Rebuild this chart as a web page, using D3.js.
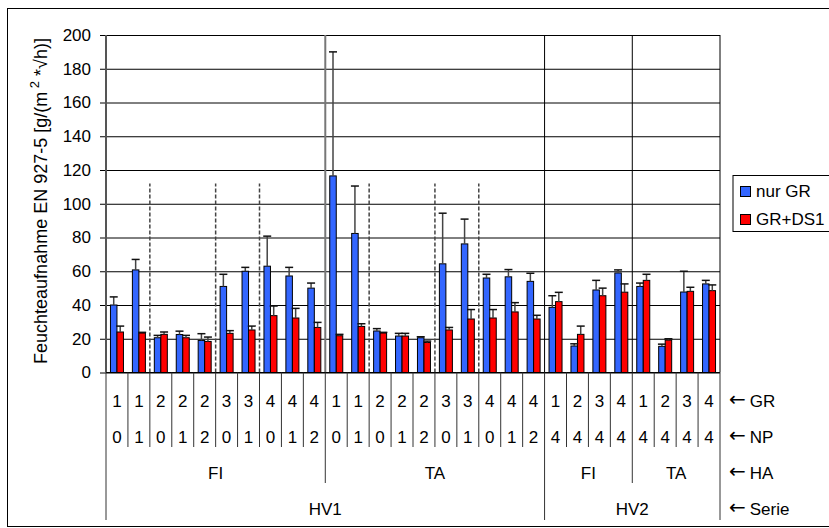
<!DOCTYPE html>
<html><head><meta charset="utf-8">
<script src="https://cdn.jsdelivr.net/npm/d3@7"></script>
<style>body{margin:0;background:#fff}svg text{font-family:"Liberation Sans",Arial,sans-serif;fill:#000}</style>
</head><body><svg id="c" width="829" height="528"></svg>
<script>
const grLabels = [1,1,2,2,2,3,3,4,4,4, 1,1,2,2,2,3,3,4,4,4, 1,2,3,4, 1,2,3,4];
const npLabels = [0,1,0,1,2,0,1,0,1,2, 0,1,0,1,2,0,1,0,1,2, 4,4,4,4, 4,4,4,4];
const haGroups = [{name:"FI",start:0,end:10},{name:"TA",start:10,end:20},{name:"FI",start:20,end:24},{name:"TA",start:24,end:28}];
const serieGroups = [{name:"HV1",start:0,end:20},{name:"HV2",start:20,end:28}];
const rowNames = ["GR","NP","HA","Serie"];
const seriesNames = ["nur GR","GR+DS1"];
const nurGR =     [40,60.8,20.6,22.5,19,51,60,63,57.2,50, 116.5,82.4,24.6,21.6,20.6,64.4,76.2,56,56.7,54, 38.6,15.7,48.9,59, 51,15.5,47.7,52.5];
const nurGRErr =  [4.8,6.2,1.4,2,4,7.2,2.3,17.8,5.1,3, 73.5,28.1,1.4,1.6,0.6,30,14.7,2.2,4.3,4.8, 6.9,1.3,5.7,1.8, 2,1.3,12.3,2.1];
const grDS1 =     [24,23.4,22.6,20.6,18.4,23.2,25.2,33.7,32.3,26.7, 21.8,27.3,23.4,21.6,17.8,25.2,31.7,32.3,35.9,31.7, 42,22.6,45.5,47.6, 54.6,19.2,48.1,48.5];
const grDS1Err =  [3.5,0.4,1.4,1.4,2.6,1.6,2.3,5.7,5.7,3, 0.8,1.6,0.4,1.6,0.8,1.5,5.6,5,5.5,2.2, 5.5,4.9,4.5,4.9, 3.6,0.8,2.4,3.4];
const yTicks = [0,20,40,60,80,100,120,140,160,180,200];
const dashedAt = [2,5,7,12,15,17];
const colors = ["#3366FF","#FF0000"];

const svg = d3.select("#c");
const L=106, R=720, T=35, B=372.5;
const x = d3.scaleBand().domain(d3.range(grLabels.length)).range([L,R]).paddingInner(0).paddingOuter(0);
const y = d3.scaleLinear().domain([0,200]).range([B,T]);
const bw = x.bandwidth();
const bx = i => x(i);
const bxEnd = i => i>=grLabels.length ? R : x(i);

// outer frame
svg.append("rect").attr("x",7.5).attr("y",8.5).attr("width",830).attr("height",518).attr("fill","none").attr("stroke","#000");

// gridlines + ticks
const yAxis = d3.axisLeft(y).tickValues(yTicks).tickSize(-(R-L)).tickSizeOuter(0).tickPadding(15);
const ga = svg.append("g").attr("transform",`translate(${L},0)`).call(yAxis);
ga.select(".domain").remove();
ga.selectAll(".tick line").attr("stroke","#000").attr("x1",-6).attr("x2",R-L);
ga.selectAll(".tick text").style("font-size","17px").attr("font-family",null);

// dashed separators
svg.selectAll(".dash").data(dashedAt).enter().append("line")
  .attr("x1",d=>bx(d)).attr("x2",d=>bx(d)).attr("y1",B).attr("y2",y(112))
  .attr("stroke","#444").attr("stroke-width",1.5).attr("stroke-dasharray","4,2");

// solid plot dividers
svg.append("line").attr("x1",bx(10)).attr("x2",bx(10)).attr("y1",T).attr("y2",B).attr("stroke","#777").attr("stroke-width",2);
[20,24].forEach(i=>svg.append("line").attr("x1",bx(i)).attr("x2",bx(i)).attr("y1",T).attr("y2",B).attr("stroke","#000").attr("stroke-width",1));
svg.append("line").attr("x1",R).attr("x2",R).attr("y1",T).attr("y2",B).attr("stroke","#000");
svg.append("line").attr("x1",L).attr("x2",L).attr("y1",T).attr("y2",B).attr("stroke","#555").attr("stroke-width",2);

// bars
const data = [nurGR, grDS1], errs=[nurGRErr, grDS1Err];
const barW = 6.5;
data.forEach((vals,s)=>{
  const g = svg.append("g");
  g.selectAll("rect").data(vals).enter().append("rect")
    .attr("x",(d,i)=>x(i)+bw/2 - barW + s*barW).attr("width",barW)
    .attr("y",d=>y(d)).attr("height",d=>B-y(d))
    .attr("fill",colors[s]).attr("stroke","#000").attr("stroke-width",1);
});
// error bars
data.forEach((vals,s)=>{
  const g = svg.append("g");
  vals.forEach((v,i)=>{
    const cx = x(i)+bw/2 - barW/2 + s*barW;
    const top = y(v+errs[s][i]);
    g.append("line").attr("x1",cx).attr("x2",cx).attr("y1",y(v)).attr("y2",top).attr("stroke","#444").attr("stroke-width",1.5);
    g.append("line").attr("x1",cx-4).attr("x2",cx+4).attr("y1",top).attr("y2",top).attr("stroke","#111").attr("stroke-width",1.5);
  });
});

// x axis baseline
svg.append("line").attr("x1",L).attr("x2",R).attr("y1",B).attr("y2",B).attr("stroke","#000");

// category axis lines
const nCat = grLabels.length;
const haBounds = new Set(haGroups.map(g=>g.start));
const serBounds = new Set(serieGroups.map(g=>g.start).concat([nCat]));
d3.range(nCat+1).forEach(i=>{
  let y2 = 447;
  if (haBounds.has(i)) y2 = 483;
  if (serBounds.has(i)) y2 = 520;
  svg.append("line").attr("x1",bxEnd(i)).attr("x2",bxEnd(i)).attr("y1",B).attr("y2",y2).attr("stroke","#333").attr("stroke-width",1);
});

const rowY = [406.5,443,479,515];
const lab = (txt,xx,yy,anchor="middle")=>svg.append("text").attr("x",xx).attr("y",yy).attr("text-anchor",anchor).style("font-size","17px").text(txt);
grLabels.forEach((d,i)=>lab(d, x(i)+bw/2, rowY[0]));
npLabels.forEach((d,i)=>lab(d, x(i)+bw/2, rowY[1]));
haGroups.forEach(g=>lab(g.name,(bx(g.start)+bxEnd(g.end))/2,rowY[2]));
serieGroups.forEach(g=>lab(g.name,(bx(g.start)+bxEnd(g.end))/2,rowY[3]));
rowNames.forEach((t,k)=>{
  const tx = svg.append("text").attr("x",729).attr("y",rowY[k]).style("font-size","17px");
  tx.append("tspan").style("font-family","DejaVu Sans").style("font-size","20px").attr("dy",-1).text("←");
  tx.append("tspan").attr("dx",4).attr("dy",1).text(t);
});

// y title
const yt = svg.append("text").attr("transform","translate(47,201) rotate(-90)").attr("text-anchor","middle").style("font-size","18px");
yt.append("tspan").text("Feuchteaufnahme EN 927-5 [g/(m");
yt.append("tspan").attr("dy",-8).style("font-size","13px").text(" 2");
yt.append("tspan").attr("dy",8).text(" *√h)]");

// legend
const lg = svg.append("g");
lg.append("rect").attr("x",733).attr("y",175.5).attr("width",120).attr("height",56).attr("fill","#fff").attr("stroke","#000");
seriesNames.forEach((n,k)=>{
  lg.append("rect").attr("x",740.5).attr("y",186.5+k*28).attr("width",10).attr("height",10).attr("fill",colors[k]).attr("stroke","#000");
  lg.append("text").attr("x",756).attr("y",197+k*28).style("font-size","17px").text(n);
});
</script></body></html>
